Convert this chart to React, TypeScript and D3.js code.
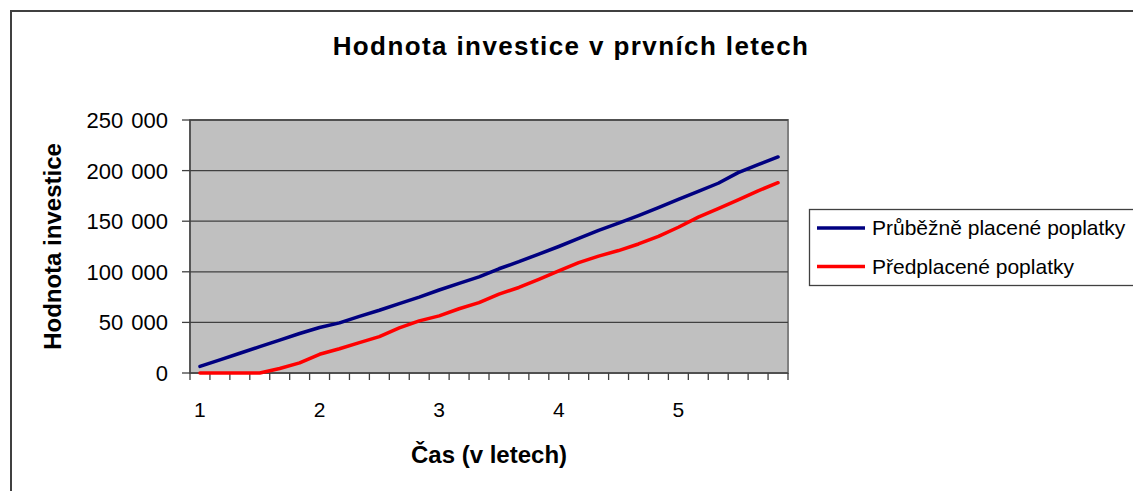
import React from "react";
import * as d3 from "d3";

// 30 points, every 2 months over 5 years
const periods = d3.range(30);
const yearLabels = ["1", "2", "3", "4", "5"];
const labelEvery = 6;

const prubezne = [
  6500, 13000, 19500, 26000, 32500, 39000, 45000, 49500, 56000, 62000,
  68500, 75000, 82000, 88500, 95000, 103000, 110000, 117500, 125000, 133000,
  141000, 148000, 155500, 163500, 171500, 179500, 187500, 198000, 206000, 213500,
];
const predplacene = [
  0, 0, 0, 0, 4500, 10000, 18500, 24000, 30000, 36000,
  44500, 51500, 56500, 63500, 69500, 78000, 84500, 92500, 101000, 109000,
  115500, 121000, 127500, 135000, 144000, 154000, 162500, 171000, 180000, 188000,
];
const yTicks = [0, 50000, 100000, 150000, 200000, 250000];

const series = [
  { name: "Průběžně placené poplatky", values: prubezne, color: "#000080" },
  { name: "Předplacené poplatky", values: predplacene, color: "#ff0000" },
];

const W = 1133;
const H = 491;
const plot = { left: 190, right: 788, top: 120, bottom: 373 };
const font = "'Liberation Sans', Arial, sans-serif";

const fmt = (v: number) => d3.format(",")(v).replace(/,/g, " ");

export default function App() {
  const x = d3
    .scaleBand<number>()
    .domain(periods)
    .range([plot.left, plot.right]);
  const y = d3.scaleLinear().domain([0, 250000]).range([plot.bottom, plot.top]);
  const line = d3
    .line<number>()
    .x((_, i) => (x(i) as number) + x.bandwidth() / 2)
    .y((d) => y(d));

  const boundaries = periods.map((p) => x(p) as number).concat([plot.right]);

  return (
    <svg
      width={W}
      height={H}
      style={{ position: "absolute", left: 0, top: 0, background: "#fff" }}
      fontFamily={font}
    >
      {/* chart frame */}
      <rect x={11} y={11} width={W + 20} height={H + 20} fill="#fff" stroke="#404040" strokeWidth={2} />

      <text
        x={571}
        y={55}
        textAnchor="middle"
        fontSize={26}
        fontWeight="bold"
        letterSpacing={1.4}
      >
        Hodnota investice v prvních letech
      </text>

      {/* plot area */}
      <rect
        x={plot.left}
        y={plot.top}
        width={plot.right - plot.left}
        height={plot.bottom - plot.top}
        fill="#c0c0c0"
        stroke="#808080"
        strokeWidth={2}
      />
      {yTicks.slice(1).map((t) => (
        <line key={t} x1={plot.left} x2={plot.right} y1={y(t)} y2={y(t)} stroke="#404040" strokeWidth={1.3} />
      ))}

      {/* y axis */}
      <line x1={plot.left} x2={plot.left} y1={plot.top} y2={plot.bottom} stroke="#404040" strokeWidth={1.3} />
      {yTicks.map((t) => (
        <g key={t}>
          <line x1={plot.left - 8} x2={plot.left} y1={y(t)} y2={y(t)} stroke="#404040" strokeWidth={1.3} />
          <text
            x={168}
            y={y(t)}
            dy="0.36em"
            textAnchor="end"
            fontSize={22}
            style={{ wordSpacing: "2px" }}
          >
            {fmt(t)}
          </text>
        </g>
      ))}
      <text
        transform={`translate(61, ${(plot.top + plot.bottom) / 2}) rotate(-90)`}
        textAnchor="middle"
        fontSize={24}
        fontWeight="bold"
      >
        Hodnota investice
      </text>

      {/* x axis */}
      <line x1={plot.left} x2={plot.right} y1={plot.bottom} y2={plot.bottom} stroke="#404040" strokeWidth={1.5} />
      {boundaries.map((bx, i) => (
        <line key={i} x1={bx} x2={bx} y1={plot.bottom} y2={plot.bottom + 7} stroke="#404040" strokeWidth={1.3} />
      ))}
      {periods
        .filter((p) => p % labelEvery === 0)
        .map((p, i) => (
          <text
            key={p}
            x={(x(p) as number) + x.bandwidth() / 2}
            y={417}
            textAnchor="middle"
            fontSize={21}
          >
            {yearLabels[i]}
          </text>
        ))}
      <text x={(plot.left + plot.right) / 2} y={463} textAnchor="middle" fontSize={24} fontWeight="bold">
        Čas (v letech)
      </text>

      {/* series */}
      {series.map((s) => (
        <path
          key={s.name}
          d={line(s.values) ?? ""}
          fill="none"
          stroke={s.color}
          strokeWidth={3.5}
          strokeLinejoin="round"
          strokeLinecap="round"
        />
      ))}

      {/* legend */}
      <rect x={809.5} y={209.5} width={340} height={76} fill="#fff" stroke="#404040" strokeWidth={1.3} />
      {series.map((s, i) => (
        <g key={s.name} transform={`translate(0, ${228 + i * 38.5})`}>
          <line x1={817} x2={865} y1={0} y2={0} stroke={s.color} strokeWidth={3.5} />
          <text x={872} y={0} dy="0.35em" fontSize={21}>
            {s.name}
          </text>
        </g>
      ))}
    </svg>
  );
}
